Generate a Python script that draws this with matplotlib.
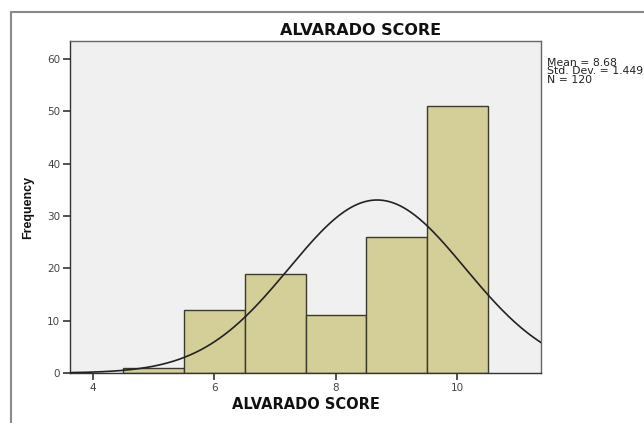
import numpy as np
import matplotlib
matplotlib.use("Agg")
import matplotlib.pyplot as plt
from matplotlib.patches import Rectangle

# ヒストグラムの値
scores = [5, 6, 7, 8, 9, 10]
counts = [1, 12, 19, 11, 26, 51]
mean_val = 8.68
sd_val = 1.449
n_val = 120

W, H = 644, 423


def fx(px):
    return px / W


def fy(py):
    return 1 - py / H


plt.rcParams["font.family"] = ["DejaVu Sans"]

fig = plt.figure(figsize=(W / 100, H / 100), dpi=100)

# 外枠
fig.patches.append(Rectangle((fx(11), -0.1), 1.0, fy(12) + 0.1,
                             transform=fig.transFigure, fill=False,
                             edgecolor="#8a8a8a", linewidth=1.5))

ax = fig.add_axes([fx(70), fy(373), (541 - 70) / W, (373 - 41) / H])
ax.set_facecolor("#f0f0f0")

ax.bar(scores, counts, width=1.0, color="#d4cf98", edgecolor="#3a3a2a",
       linewidth=1.0, zorder=2)

# 正規分布曲線
x0, x1 = 3.62, 11.38
xs = np.linspace(x0, x1, 300)
ys = n_val / (sd_val * np.sqrt(2 * np.pi)) * np.exp(-0.5 * ((xs - mean_val) / sd_val) ** 2)
ax.plot(xs, ys, color="#222222", linewidth=1.2, zorder=3)

ax.set_xlim(x0, x1)
ax.set_ylim(0, 63.4)
ax.set_xticks([4, 6, 8, 10])
ax.set_yticks([0, 10, 20, 30, 40, 50, 60])
ax.tick_params(labelsize=7.5, colors="#333333", length=5, width=1.2, pad=2,
               labelcolor="#444444")
for sp in ax.spines.values():
    sp.set_color("#666666")
    sp.set_linewidth(1.0)
ax.spines["left"].set_color("#333333")
ax.spines["bottom"].set_color("#333333")

# タイトル・軸ラベル
fig.text(fx(361), fy(35), "ALVARADO SCORE", fontsize=11.5, fontweight="bold",
         ha="center", va="baseline", color="#111111")
fig.text(fx(305.5), fy(409), "ALVARADO SCORE", fontsize=10.5, fontweight="bold",
         ha="center", va="baseline", color="#111111")
fig.text(fx(28), fy(207), "Frequency", fontsize=9, fontweight="bold",
         family=["Liberation Sans", "DejaVu Sans"],
         rotation=90, ha="center", va="center", color="#111111")

# 統計量
stats = [f"Mean = {mean_val:.2f}", f"Std. Dev. = {sd_val:.3f}", f"N = {n_val}"]
for i, s in enumerate(stats):
    fig.text(fx(547), fy(66 + 8.5 * i), s, fontsize=7.8, ha="left",
             va="baseline", color="#222222")

plt.savefig("out.png", dpi=100)
